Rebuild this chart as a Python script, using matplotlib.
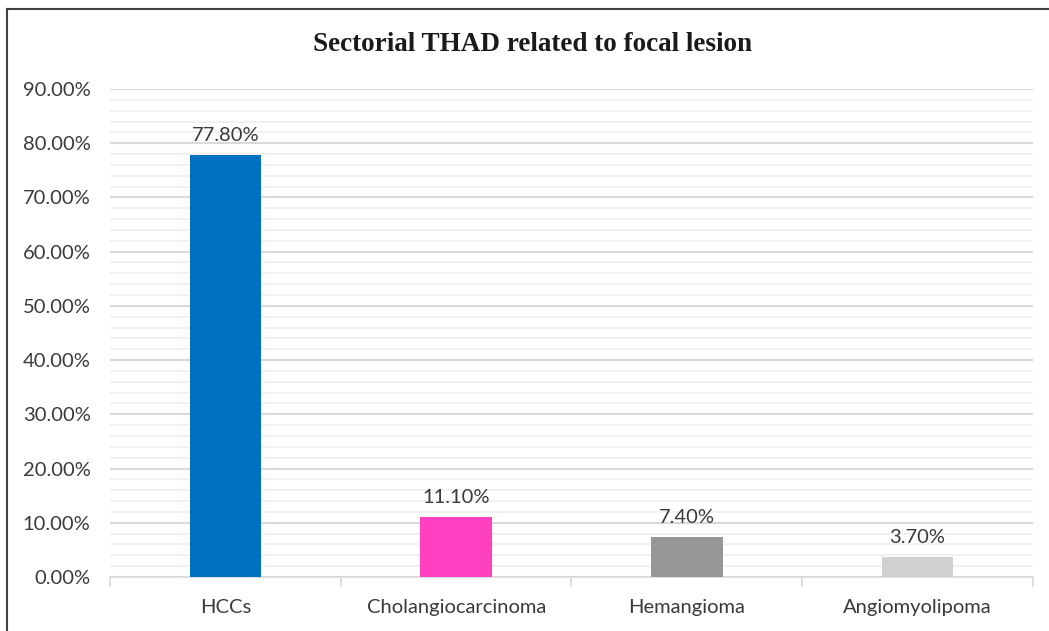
import matplotlib.pyplot as plt
from matplotlib.lines import Line2D
from matplotlib.ticker import MultipleLocator, FuncFormatter, FixedLocator
import numpy as np

categories = ['HCCs', 'Cholangiocarcinoma', 'Hemangioma', 'Angiomyolipoma']
values = [77.8, 11.1, 7.4, 3.7]
colors = ['#0070C0', '#FF40C0', '#969696', '#D0D0D0']
title = 'Sectorial THAD related to focal lesion'

plt.rcParams['font.family'] = ['Lato', 'DejaVu Sans']

fig = plt.figure(figsize=(10.49, 6.31), dpi=100)
ax = fig.add_axes([0.1049, 0.0856, 0.8798, 0.7734])

x = np.arange(len(categories))
ax.bar(x, values, width=0.31, color=colors, zorder=3)
for xi, v in zip(x, values):
    ax.text(xi, v + 2.0, '%.2f%%' % v, ha='center', va='bottom',
            fontsize=14.5, color='#3a3a3a')

ax.set_xlim(-0.5, len(categories) - 0.5)
ax.set_ylim(0, 90)
ax.yaxis.set_major_locator(MultipleLocator(10))
ax.yaxis.set_minor_locator(MultipleLocator(2))
ax.yaxis.set_major_formatter(FuncFormatter(lambda v, p: '%.2f%%' % v))
ax.grid(axis='y', which='major', color='#D9D9D9', linewidth=1.5, zorder=0)
ax.grid(axis='y', which='minor', color='#EFEFEF', linewidth=1.2, zorder=0)

ax.set_xticks(x)
ax.set_xticklabels(categories)
ax.xaxis.set_minor_locator(FixedLocator(np.arange(len(categories) + 1) - 0.5))
ax.tick_params(axis='x', which='major', length=0, pad=16, labelsize=14.5, labelcolor='#3a3a3a')
ax.tick_params(axis='x', which='minor', length=7, color='#D9D9D9', width=1.2)
ax.tick_params(axis='y', which='both', length=0, pad=14, labelsize=14.5, labelcolor='#3a3a3a')

for s in ['top', 'right', 'left']:
    ax.spines[s].set_visible(False)
ax.spines['bottom'].set_color('#D9D9D9')
ax.spines['bottom'].set_linewidth(1.2)

fig.text(0.508, 0.93, title, ha='center', va='center', fontsize=19.5,
         fontweight='bold', family=['Liberation Serif', 'DejaVu Serif'], color='#1a1a1a')

# frame of the chart box (left and top edges visible)
fig.add_artist(Line2D([0.0071, 0.0071], [0, 0.986], color='#404040', linewidth=1.5))
fig.add_artist(Line2D([0.0071, 1.0], [0.986, 0.986], color='#404040', linewidth=1.5))

fig.savefig('out.png', dpi=100)
